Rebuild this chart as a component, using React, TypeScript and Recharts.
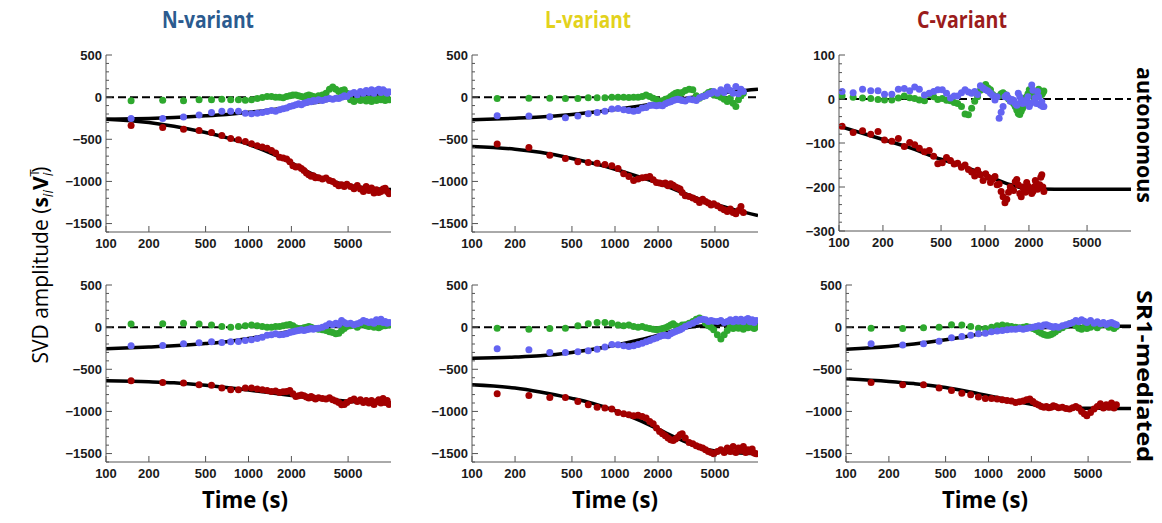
import { ComposedChart, Scatter, Line, XAxis, YAxis, ReferenceLine } from "recharts";

const RED = "#a30000";
const BLUE = "#6464f2";
const GREEN = "#2ea82e";
const FRAME = "#555";

// sampling times (s)
const times = [
  150, 250, 350, 450, 550, 650, 750, 850, 950, 1050, 1150, 1250, 1350, 1450, 1550, 1650, 1750, 1850, 1950,
  2050, 2150, 2250, 2350, 2450, 2550, 2650, 2750, 2850, 2950,
  3100, 3300, 3500, 3700, 3900, 4100, 4300, 4500, 4700, 4900,
  5200, 5500, 5800, 6100, 6400, 6700, 7000, 7300, 7600, 7900, 8200, 8500, 8800, 9100, 9400, 9700,
];
const timesC = [
  105, 125, 145, 165, 185, 205, 230, 255, 280, 305, 330, 355, 385, 415, 445, 475, 510, 545, 580, 615,
  650, 690, 730, 770, 810, 850, 890, 930, 970, 1010, 1050, 1090, 1130, 1170, 1210, 1250, 1290, 1330, 1370, 1410,
  1450, 1490, 1530, 1570, 1610, 1650, 1690, 1730, 1770, 1810, 1850, 1890, 1930, 1970, 2010, 2050, 2090, 2130, 2170, 2210,
  2250, 2290, 2330, 2370, 2410, 2450, 2490, 2530,
];
const fitTimes = [100, 200, 300, 500, 700, 1000, 1500, 2000, 3000, 4000, 5000, 7000, 10000];

const xTicks = [100, 200, 500, 1000, 2000, 5000];
const yMajor = [-1500, -1000, -500, 0, 500];
const yMinor = [-1600, -1500, -1400, -1300, -1200, -1100, -1000, -900, -800, -700, -600, -500, -400, -300, -200, -100, 0, 100, 200, 300, 400, 500];
const yMajorC = [-300, -200, -100, 0, 100];
const yMinorC = [-300, -280, -260, -240, -220, -200, -180, -160, -140, -120, -100, -80, -60, -40, -20, 0, 20, 40, 60, 80, 100];

// N-variant, autonomous
const nAutoRed = [-336, -360, -380, -395, -420, -455, -490, -505, -525, -553, -577, -593, -605, -632, -664, -712, -723, -735, -767, -814, -830, -826, -846, -870, -901, -921, -940, -933, -956, -955, -972, -960, -988, -1000, -1028, -1052, -1040, -1060, -1032, -1060, -1087, -1048, -1091, -1119, -1060, -1107, -1079, -1138, -1099, -1130, -1119, -1091, -1080, -1119, -1146];
const nAutoBlue = [-253, -253, -237, -213, -182, -166, -166, -166, -190, -198, -190, -182, -170, -158, -166, -150, -138, -130, -111, -103, -91, -79, -91, -71, -63, -51, -55, -40, -47, -32, -40, -24, -16, -24, -12, -16, 0, 16, 8, 40, 55, 28, 67, 47, 79, 55, 87, 47, 79, 95, 55, 87, 67, 47, 63];
const nAutoGreen = [-43, -36, -43, -32, -32, -24, -32, -32, -36, -32, -16, -4, 8, 8, 0, 0, -8, 8, 16, 24, 24, 16, 8, 0, 16, 24, 16, 8, 0, 16, 24, 47, 95, 119, 95, 67, 79, 87, 47, -32, -51, -24, -40, -16, -47, -24, -51, -16, -40, -24, -32, -16, -40, -24, -32];
const nAutoRedFit = [-261, -300, -345, -420, -480, -560, -680, -780, -935, -1005, -1045, -1080, -1095];
const nAutoBlueFit = [-262, -252, -242, -222, -205, -180, -145, -110, -60, -25, 0, 30, 50];

// L-variant, autonomous
const lAutoRed = [-557, -597, -688, -727, -767, -775, -783, -798, -814, -846, -909, -941, -988, -972, -956, -949, -941, -980, -1012, -1020, -1028, -1020, -1052, -1028, -1044, -1067, -1079, -1091, -1130, -1170, -1178, -1198, -1218, -1249, -1210, -1237, -1257, -1281, -1265, -1289, -1316, -1336, -1356, -1328, -1368, -1384, -1344, -1297, -1368];
const lAutoBlue = [-221, -225, -233, -245, -225, -198, -182, -166, -142, -134, -150, -158, -166, -158, -130, -123, -99, -95, -103, -95, -103, -79, -63, -55, -40, -32, -24, -32, -40, -47, -24, -32, -40, -8, 8, 16, 40, 47, 67, 47, 87, 55, 119, 79, 47, 126, 40, 95, 67];
const lAutoGreen = [-16, -12, -12, -16, -16, -8, -8, -8, 0, 0, 0, -4, 0, 0, 8, 24, 8, -12, -32, -47, -43, -24, -16, 8, 28, 47, 55, 40, 55, 79, 95, 87, 16, -12, 8, 28, 55, 67, 28, 16, 0, -24, -51, -12, -71, -111, -32, 16, 47];
const lAutoRedFit = [-585, -617, -655, -727, -785, -855, -950, -1020, -1135, -1215, -1270, -1340, -1405];
const lAutoBlueFit = [-269, -250, -235, -205, -180, -148, -105, -70, -20, 15, 40, 70, 95];

// C-variant, autonomous
const cAutoRed = [-62, -76, -72, -80, -74, -93, -96, -90, -108, -99, -104, -112, -120, -117, -130, -147, -145, -133, -140, -148, -146, -155, -150, -160, -166, -175, -162, -172, -185, -170, -178, -190, -182, -176, -195, -193, -210, -222, -236, -228, -212, -200, -205, -208, -188, -183, -195, -215, -222, -200, -205, -212, -190, -198, -208, -203, -215, -210, -200, -185, -192, -205, -200, -195, -178, -172, -200, -210];
const cAutoBlue = [17, 14, 22, 19, 19, 11, 11, 22, 24, 19, 27, 22, 9, 13, 17, 21, 21, 13, 2, 7, 7, 14, 21, 16, 13, 17, 10, 30, 25, 21, 18, 13, 8, -2, 5, -44, -30, -17, 5, 9, 2, -5, -1, -3, -10, -14, 13, 5, -4, -10, -4, -8, -4, 5, -17, -10, 32, 20, -6, 3, -10, 17, 5, -12, -14, -6, -17, -17];
const cAutoGreen = [7, 4, 2, 1, -1, -2, -2, 2, 7, 3, 1, -2, -4, 10, 5, -1, 1, -3, -4, -8, -10, -17, -34, -36, -21, -5, 5, 20, 28, 33, 25, 21, 10, 2, 5, 7, 12, 14, 10, 5, 0, -4, -6, -10, -17, -25, -33, -35, -28, -21, -10, 2, 5, 12, 21, 18, 13, 8, -2, 3, 9, 15, 22, 18, 14, 10, 14, 18];
const cAutoRedFit = [-62, -92, -110, -137, -152, -172, -195, -204, -205, -205, -205, -205, -205];

// N-variant, SR1-mediated
const nSr1Red = [-636, -656, -664, -684, -688, -723, -743, -743, -723, -723, -735, -743, -751, -763, -759, -775, -767, -763, -751, -791, -822, -814, -806, -814, -830, -842, -822, -838, -854, -838, -846, -854, -838, -862, -877, -893, -921, -917, -893, -870, -854, -881, -862, -893, -870, -901, -870, -917, -885, -862, -901, -846, -893, -870, -917];
const nSr1Blue = [-221, -217, -198, -186, -174, -182, -174, -170, -158, -150, -134, -119, -95, -91, -79, -91, -87, -79, -63, -55, -47, -40, -32, -40, -32, -24, -16, -24, -16, -12, 0, 16, 40, 28, 47, 32, 79, 55, 40, 47, 28, 40, 55, 79, 67, 55, 63, 47, 87, 63, 95, 55, 67, 47, 55];
const nSr1Green = [36, 40, 47, 36, 24, 8, 0, 8, 16, 24, 16, 8, 0, 0, 8, 8, 16, 24, 32, 16, -8, -16, -16, -8, 0, 8, 0, -12, -16, -24, -32, -40, -55, -63, -79, -71, -40, -16, 8, 16, 24, 0, 28, 47, 16, 8, 28, 0, 16, -8, 8, 24, 16, 32, 24];
const nSr1RedFit = [-636, -648, -660, -690, -715, -745, -785, -812, -845, -865, -878, -892, -900];
const nSr1BlueFit = [-257, -237, -222, -195, -172, -135, -85, -48, -10, 10, 22, 35, 45];

// L-variant, SR1-mediated
const lSr1Red = [-791, -810, -834, -834, -881, -921, -949, -960, -972, -1012, -1028, -1040, -1052, -1044, -1060, -1079, -1119, -1146, -1198, -1237, -1265, -1289, -1316, -1336, -1344, -1328, -1305, -1277, -1265, -1316, -1368, -1384, -1407, -1423, -1435, -1455, -1474, -1486, -1502, -1474, -1455, -1486, -1435, -1474, -1415, -1486, -1435, -1463, -1415, -1486, -1455, -1474, -1447, -1494, -1502];
const lSr1Blue = [-257, -269, -300, -300, -292, -281, -261, -237, -206, -210, -221, -229, -221, -206, -190, -174, -158, -142, -130, -111, -99, -95, -103, -79, -63, -51, -40, -32, -16, 8, 28, 47, 67, 87, 95, 87, 67, 79, 71, 67, 79, 55, 67, 87, 63, 95, 71, 95, 63, 87, 103, 63, 87, 55, 79];
const lSr1Green = [-12, -24, -16, -12, 16, 40, 55, 55, 47, 24, 16, 24, 8, 0, 8, -8, -16, -24, -32, -24, -16, -8, 8, 24, 40, 16, 0, 8, 24, 28, 47, 67, 95, 107, 87, 47, 16, 0, -32, -91, -142, -91, -40, 8, -16, 16, -12, 8, -24, 8, -8, 16, 0, -16, 0];
const lSr1RedFit = [-684, -723, -770, -845, -905, -990, -1110, -1210, -1350, -1430, -1470, -1490, -1500];
const lSr1BlueFit = [-368, -355, -340, -300, -262, -215, -150, -95, -15, 15, 25, 30, 30];

// C-variant, SR1-mediated
const cSr1Red = [-656, -684, -684, -723, -751, -783, -802, -830, -846, -846, -854, -862, -870, -877, -893, -885, -877, -862, -854, -881, -909, -925, -941, -949, -941, -956, -949, -933, -941, -956, -949, -964, -972, -956, -941, -960, -1000, -1028, -1052, -1012, -972, -941, -909, -960, -921, -949, -901, -960, -921];
const cSr1Blue = [-198, -213, -198, -166, -126, -111, -95, -79, -71, -55, -47, -40, -32, -24, -24, -16, -24, -16, -8, 0, 8, 16, 8, 24, 28, 16, 8, 0, 8, 0, 16, 28, 40, 55, 79, 63, 87, 71, 55, 79, 47, 63, 40, 55, 32, 47, 55, 40, 28];
const cSr1Green = [-12, -16, -8, 0, 28, 24, 8, -12, -16, 0, 16, 24, 16, 8, 0, -8, 0, 8, 0, -16, -32, -55, -71, -87, -95, -95, -87, -71, -55, -32, -8, 16, 40, 47, 16, -12, -24, 0, -16, 0, 16, -8, 24, 47, 28, 0, 40, -16, 8];
const cSr1RedFit = [-613, -644, -670, -715, -760, -815, -875, -915, -948, -958, -962, -964, -965];
const cSr1BlueFit = [-261, -230, -200, -150, -110, -65, -30, -12, 0, 5, 8, 10, 10];

const pts = (ts: number[], vs: number[]) => vs.map((v, i) => ({ t: ts[i], v }));

const TICK_FONT = {
  fontFamily: "'Liberation Sans', Arial, sans-serif",
  fontWeight: 700,
  fontSize: 13,
  fill: "#1a1a1a",
};

const fmt = (v: number) => (v < 0 ? "\u2212" + Math.abs(v) : String(v));

const dot = (color: string) => (p: any) => <circle cx={p.cx} cy={p.cy} r={3.5} fill={color} />;

interface PanelProps {
  left: number;
  top: number;
  w: number;
  h: number;
  domain: [number, number];
  majors: number[];
  minors: number[];
  ts: number[];
  red: number[];
  blue: number[];
  green: number[];
  fits: number[][];
}

const Panel = ({ left, top, w, h, domain, majors, minors, ts, red, blue, green, fits }: PanelProps) => {
  const leftTick = (p: any) => {
    const major = majors.includes(p.payload.value);
    return (
      <g>
        <line x1={p.x} y1={p.y} x2={p.x + (major ? 6 : 3)} y2={p.y} stroke={FRAME} />
        {major && (
          <text x={p.x - 4} y={p.y} dy="0.36em" textAnchor="end" style={TICK_FONT}>
            {fmt(p.payload.value)}
          </text>
        )}
      </g>
    );
  };
  const rightTick = (p: any) => {
    const major = majors.includes(p.payload.value);
    return <line x1={p.x} y1={p.y} x2={p.x - (major ? 6 : 3)} y2={p.y} stroke={FRAME} />;
  };
  const bottomTick = (p: any) => (
    <g>
      <line x1={p.x} y1={p.y} x2={p.x} y2={p.y - 6} stroke={FRAME} />
      <text x={p.x} y={p.y + 16} textAnchor="middle" style={TICK_FONT}>
        {p.payload.value}
      </text>
    </g>
  );
  const topTick = (p: any) => <line x1={p.x} y1={p.y} x2={p.x} y2={p.y + 6} stroke={FRAME} />;

  return (
    <div style={{ position: "absolute", left: left - 60, top: top - 10 }}>
      <ComposedChart width={w + 70} height={h + 40} margin={{ top: 10, right: 10, bottom: 0, left: 0 }}>
        <XAxis
          xAxisId="b"
          dataKey="t"
          type="number"
          scale="log"
          domain={[100, 10000]}
          allowDataOverflow
          ticks={xTicks}
          interval={0}
          height={30}
          tickSize={0}
          tickMargin={0}
          tick={bottomTick}
          axisLine={{ stroke: FRAME }}
        />
        <XAxis
          xAxisId="top"
          orientation="top"
          type="number"
          scale="log"
          domain={[100, 10000]}
          allowDataOverflow
          ticks={xTicks}
          interval={0}
          height={0}
          tickSize={0}
          tickMargin={0}
          tick={topTick}
          axisLine={{ stroke: FRAME }}
        />
        <YAxis
          yAxisId="l"
          type="number"
          domain={domain}
          allowDataOverflow
          ticks={minors}
          interval={0}
          width={60}
          tickSize={0}
          tickMargin={0}
          tick={leftTick}
          axisLine={{ stroke: FRAME }}
        />
        <YAxis
          yAxisId="r"
          orientation="right"
          type="number"
          domain={domain}
          allowDataOverflow
          ticks={minors}
          interval={0}
          width={0}
          tickSize={0}
          tickMargin={0}
          tick={rightTick}
          axisLine={{ stroke: FRAME }}
        />
        <ReferenceLine xAxisId="b" yAxisId="l" y={0} stroke="#000" strokeWidth={2} strokeDasharray="8 4" />
        {fits.map((f, i) => (
          <Line
            key={i}
            xAxisId="b"
            yAxisId="l"
            data={pts(fitTimes, f)}
            dataKey="v"
            type="monotone"
            stroke="#000"
            strokeWidth={3.5}
            dot={false}
            activeDot={false}
            isAnimationActive={false}
          />
        ))}
        <Scatter xAxisId="b" yAxisId="l" data={pts(ts, red)} dataKey="v" shape={dot(RED)} isAnimationActive={false} />
        <Scatter xAxisId="b" yAxisId="l" data={pts(ts, green)} dataKey="v" shape={dot(GREEN)} isAnimationActive={false} />
        <Scatter xAxisId="b" yAxisId="l" data={pts(ts, blue)} dataKey="v" shape={dot(BLUE)} isAnimationActive={false} />
      </ComposedChart>
    </div>
  );
};

const TITLE = { fontFamily: "'Open Sans', sans-serif", fontWeight: 700, fontSize: 24 };

export default function App() {
  return (
    <div style={{ position: "absolute", left: 0, top: 0, width: 1162, height: 523, background: "#fff", overflow: "hidden" }}>
      <Panel left={106} top={55} w={285} h={177} domain={[-1600, 500]} majors={yMajor} minors={yMinor} ts={times} red={nAutoRed} blue={nAutoBlue} green={nAutoGreen} fits={[nAutoRedFit, nAutoBlueFit]} />
      <Panel left={472} top={55} w={286} h={177} domain={[-1600, 500]} majors={yMajor} minors={yMinor} ts={times} red={lAutoRed} blue={lAutoBlue} green={lAutoGreen} fits={[lAutoRedFit, lAutoBlueFit]} />
      <Panel left={839} top={55} w={292} h={176} domain={[-300, 100]} majors={yMajorC} minors={yMinorC} ts={timesC} red={cAutoRed} blue={cAutoBlue} green={cAutoGreen} fits={[cAutoRedFit]} />
      <Panel left={106} top={285} w={285} h={177} domain={[-1600, 500]} majors={yMajor} minors={yMinor} ts={times} red={nSr1Red} blue={nSr1Blue} green={nSr1Green} fits={[nSr1RedFit, nSr1BlueFit]} />
      <Panel left={472} top={285} w={286} h={177} domain={[-1600, 500]} majors={yMajor} minors={yMinor} ts={times} red={lSr1Red} blue={lSr1Blue} green={lSr1Green} fits={[lSr1RedFit, lSr1BlueFit]} />
      <Panel left={846} top={285} w={285} h={177} domain={[-1600, 500]} majors={yMajor} minors={yMinor} ts={times} red={cSr1Red} blue={cSr1Blue} green={cSr1Green} fits={[cSr1RedFit, cSr1BlueFit]} />

      <svg width={1162} height={523} style={{ position: "absolute", left: 0, top: 0, pointerEvents: "none" }}>
        <text x={208} y={28} textAnchor="middle" style={{ ...TITLE, fill: "#2b5b8f" }} textLength={92} lengthAdjust="spacingAndGlyphs">N-variant</text>
        <text x={588} y={28} textAnchor="middle" style={{ ...TITLE, fill: "#e3d21c" }} textLength={86} lengthAdjust="spacingAndGlyphs">L-variant</text>
        <text x={962} y={28} textAnchor="middle" style={{ ...TITLE, fill: "#9b1c1c" }} textLength={90} lengthAdjust="spacingAndGlyphs">C-variant</text>

        {[245, 615, 985].map((cx) => (
          <text key={cx} x={cx} y={508} textAnchor="middle" style={{ ...TITLE, fill: "#000" }} textLength={86} lengthAdjust="spacingAndGlyphs">Time (s)</text>
        ))}

        <text transform="translate(1137, 135) rotate(90)" textAnchor="middle" style={{ ...TITLE, fontSize: 22, fill: "#000" }} textLength={136} lengthAdjust="spacingAndGlyphs">autonomous</text>
        <text transform="translate(1137, 376) rotate(90)" textAnchor="middle" style={{ ...TITLE, fontSize: 22, fill: "#000" }} textLength={172} lengthAdjust="spacingAndGlyphs">SR1-mediated</text>

        <text transform="translate(48, 265) rotate(-90)" textAnchor="middle" style={{ fontFamily: "'Open Sans', sans-serif", fontSize: 21, fill: "#000" }}>
          SVD amplitude (<tspan fontWeight={700}>s</tspan>
          <tspan fontStyle="italic" fontSize={14} dy={5}>ii</tspan>
          <tspan fontWeight={700} dy={-5}>V</tspan>
          <tspan fontSize={13} dy={-9}>T</tspan>
          <tspan fontStyle="italic" fontSize={14} dx={-7} dy={14}>i</tspan>
          <tspan dy={-5}>)</tspan>
        </text>
      </svg>
    </div>
  );
}
